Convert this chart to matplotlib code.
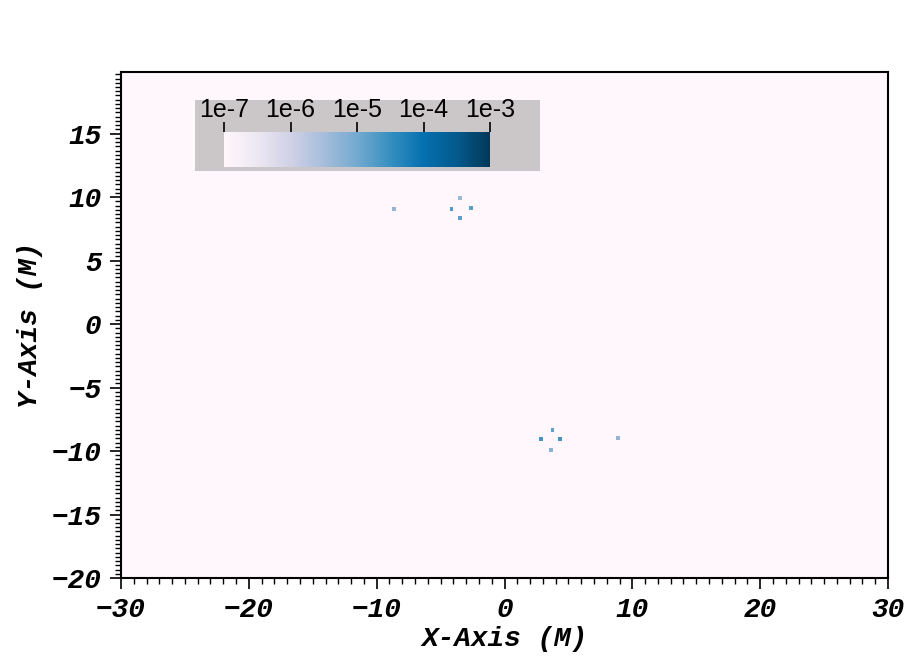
import numpy as np
import matplotlib.pyplot as plt
from matplotlib.colors import LogNorm
from matplotlib.ticker import MultipleLocator

# faint blue speckles in the field (x, y in M, value)
spot_x = [-4.1, -2.6, -3.5, -3.5, -8.7, 2.9, 4.4, 3.8, 3.6, 8.9]
spot_y = [9.05, 9.1, 8.3, 9.95, 9.0, -9.1, -9.1, -8.35, -9.9, -8.9]
spot_v = [2e-5, 1.5e-5, 1.5e-5, 4e-6, 5e-6, 2.5e-5, 2.5e-5, 1.5e-5, 6e-6, 5e-6]

cbar_ticks = [1e-7, 1e-6, 1e-5, 1e-4, 1e-3]
cbar_labels = ["1e-7", "1e-6", "1e-5", "1e-4", "1e-3"]

# build the field on a grid
dx = 0.1
gx = np.arange(-30, 30, dx) + dx / 2
gy = np.arange(-20, 20, dx) + dx / 2
field = np.full((len(gy), len(gx)), 1e-8)
for x, y, v in zip(spot_x, spot_y, spot_v):
    i = int((y + 20) / dx)
    j = int((x + 30) / dx)
    field[i-1:i+2, j-1:j+2] = v

lab_font = dict(family="Liberation Mono", weight="bold", style="italic", size=20)

fig = plt.figure(figsize=(9.24, 6.59), dpi=100)
ax = fig.add_axes([121/924, 1-578/659, 767/924, 506/659])
im = ax.imshow(field, origin="lower", extent=(-30, 30, -20, 20), aspect="auto",
               cmap="PuBu", norm=LogNorm(vmin=1e-7, vmax=1e-3), interpolation="nearest")
ax.set_xlim(-30, 30)
ax.set_ylim(-20, 19.85)
ax.set_xticks([-30, -20, -10, 0, 10, 20, 30])
ax.set_yticks([-20, -15, -10, -5, 0, 5, 10, 15])
ax.xaxis.set_minor_locator(MultipleLocator(1))
ax.yaxis.set_minor_locator(MultipleLocator(1/3))
ax.tick_params(which="major", direction="out", length=8, width=1.2, pad=6)
ax.tick_params(which="minor", direction="out", length=4, width=1)
for lab in ax.get_xticklabels() + ax.get_yticklabels():
    lab.set_family("Liberation Mono")
    lab.set_weight("bold")
    lab.set_style("italic")
    lab.set_size(20)
for s in ax.spines.values():
    s.set_linewidth(1.5)
ax.set_xlabel("X-Axis (M)", labelpad=2, **lab_font)
ax.set_ylabel("Y-Axis (M)", labelpad=6, **lab_font)

# legend box with colorbar
box = fig.add_axes([195/924, 1-171/659, 345/924, 71/659])
box.set_facecolor("#cbc6c8")
box.set_xticks([])
box.set_yticks([])
for s in box.spines.values():
    s.set_visible(False)

cax = fig.add_axes([224/924, 1-167/659, 266/924, 35/659])
cb = fig.colorbar(im, cax=cax, orientation="horizontal")
cb.outline.set_visible(False)
cax.xaxis.set_ticks_position("top")
cb.set_ticks(cbar_ticks)
cb.set_ticklabels(cbar_labels)
cax.minorticks_off()
cax.tick_params(which="major", direction="out", length=7, width=1.2, pad=0)
for lab in cax.get_xticklabels():
    lab.set_family("Liberation Sans")
    lab.set_size(18)

fig.savefig("out.png", dpi=100)
